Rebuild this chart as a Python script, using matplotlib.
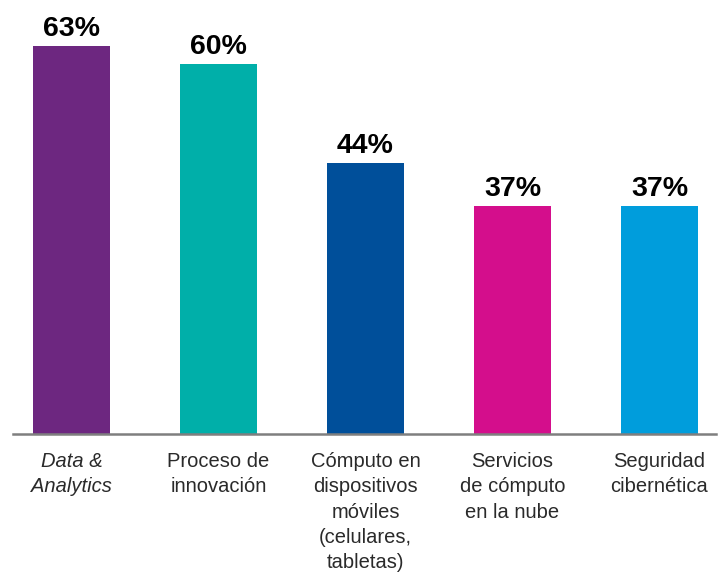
import matplotlib
matplotlib.use("Agg")
import matplotlib.pyplot as plt
import numpy as np

categories = ["Data &\nAnalytics", "Proceso de\ninnovación",
              "Cómputo en\ndispositivos\nmóviles\n(celulares,\ntabletas)",
              "Servicios\nde cómputo\nen la nube", "Seguridad\ncibernética"]
values = [63, 60, 44, 37, 37]
colors = ["#6D2780", "#00AFA9", "#004F9A", "#D40E8C", "#009DDC"]

W, H = 725, 575
fig = plt.figure(figsize=(W/100, H/100), dpi=100)
left_px, right_px, base_px, top_px = 13, 716, 434, 46
ax = fig.add_axes([left_px/W, 1-base_px/H, (right_px-left_px)/W, (base_px-top_px)/H])

x = np.arange(len(values))
spacing = 147.0
c0 = 71.5
ax.set_xlim((left_px-c0)/spacing, (right_px-c0)/spacing)
ax.set_ylim(0, max(values))

bars = ax.bar(x, values, width=77/spacing, color=colors, zorder=2)
labels = ax.bar_label(bars, labels=[f"{v}%" for v in values], padding=3,
                      fontsize=20.5, fontweight="bold", family="Liberation Sans",
                      color="black")
for t in labels:
    t.set_clip_on(False)

for s in ["top", "right", "left"]:
    ax.spines[s].set_visible(False)
ax.spines["bottom"].set_color("#7F7F7F")
ax.spines["bottom"].set_linewidth(1.8)
ax.set_yticks([])
ax.set_xticks(x)
ax.set_xticklabels(categories, fontsize=14.5, family="Liberation Sans",
                   color="#2a2a2a", linespacing=1.42)
ax.tick_params(axis="x", length=0, pad=13)
ax.get_xticklabels()[0].set_fontstyle("italic")

fig.savefig("out.png", dpi=100)
